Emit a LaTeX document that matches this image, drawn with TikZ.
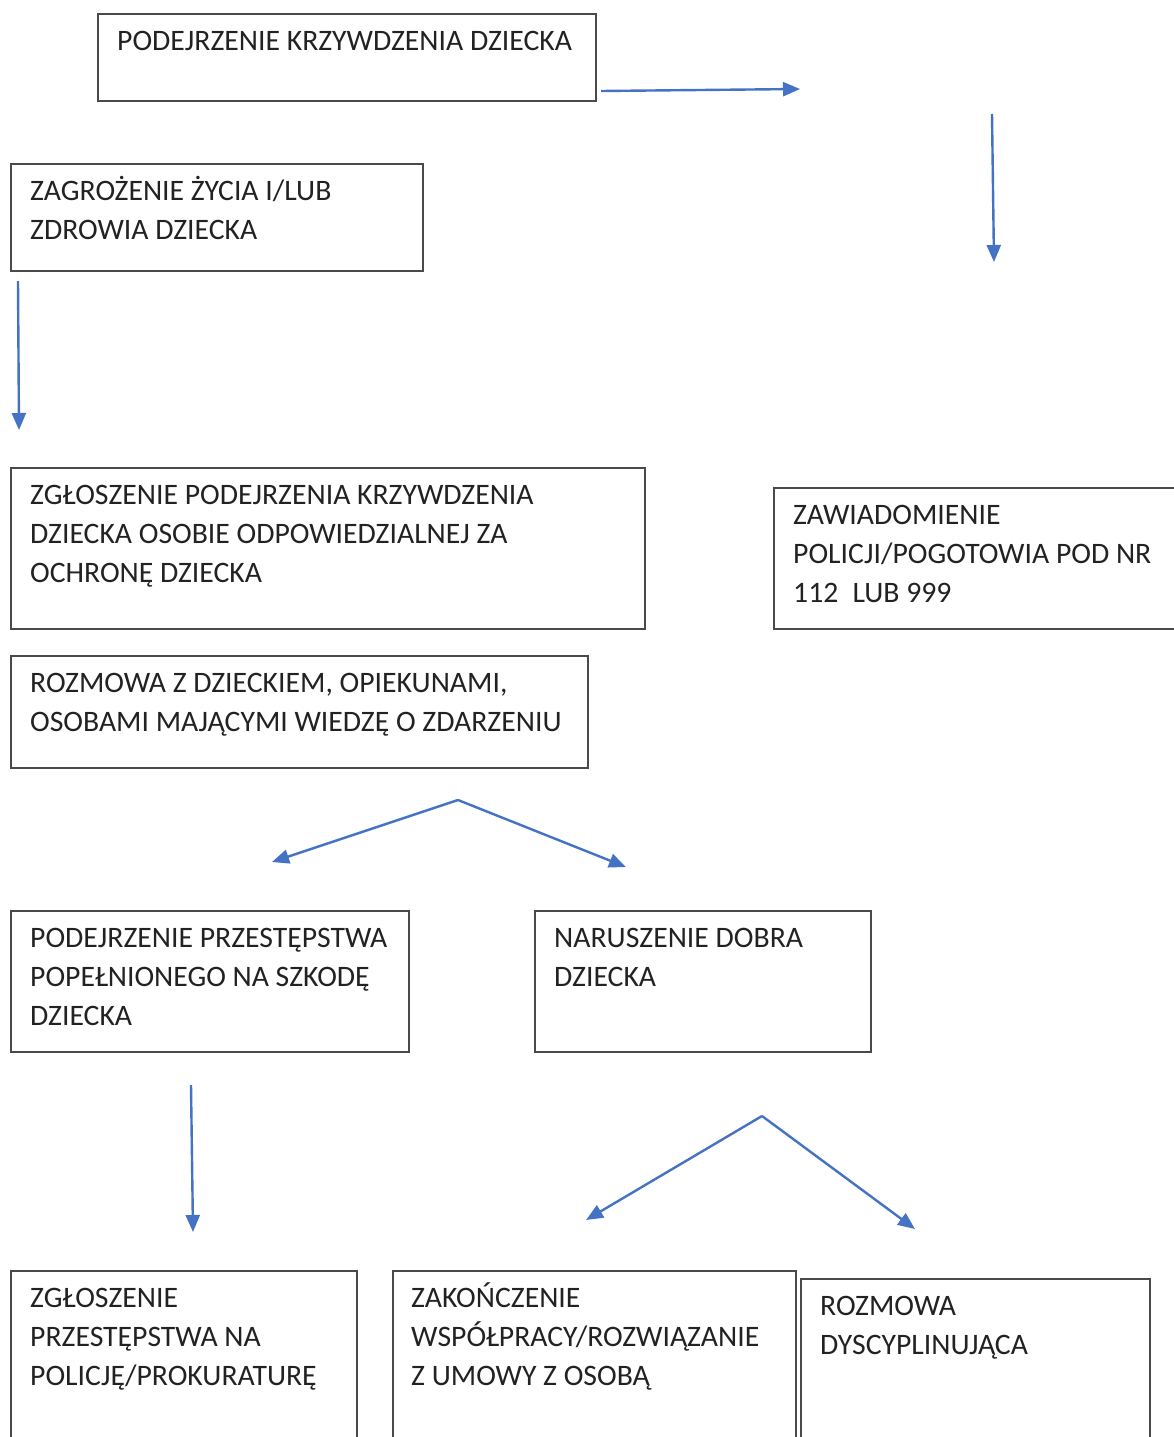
\documentclass[tikz,border=0pt]{standalone}
\usepackage{fontspec}
\setmainfont{Carlito}
\usetikzlibrary{arrows.meta,shadows}
\definecolor{arrowblue}{HTML}{4472C4}
\definecolor{boxline}{HTML}{4A4A4A}
\definecolor{txt}{HTML}{222222}
\tikzset{
  box/.style={draw=boxline, line width=1.6pt, fill=white, rectangle, anchor=north west, inner sep=0pt,
    drop shadow={shadow xshift=1.6pt, shadow yshift=-1.6pt, opacity=0.55, fill=black!70}},
  boxtext/.style={anchor=north west, inner sep=0pt, align=left, text=txt,
    font=\fontsize{29.7pt}{39pt}\selectfont},
  arr/.style={draw=arrowblue, line width=2.4pt, -{Triangle[length=17pt,width=14pt]}}
}
\newcommand{\fl}{\rule{0pt}{28pt}}
\begin{document}
\begin{tikzpicture}[x=1pt,y=-1pt]
\clip (0,0) rectangle (1174,1437);
\fill[white] (0,0) rectangle (1174,1437);

% boxes
\node[box, minimum width=498pt, minimum height=87pt] (b1) at (97,13) {};
\node[box, minimum width=412pt, minimum height=107pt] (b2) at (10,163) {};
\node[box, minimum width=634pt, minimum height=161pt] (b3) at (10,467) {};
\node[box, minimum width=410pt, minimum height=141pt] (b4) at (773,487) {};
\node[box, minimum width=577pt, minimum height=112pt] (b5) at (10,655) {};
\node[box, minimum width=398pt, minimum height=141pt] (b6) at (10,910) {};
\node[box, minimum width=336pt, minimum height=141pt] (b7) at (534,910) {};
\node[box, minimum width=346pt, minimum height=190pt] (b8) at (10,1270) {};
\node[box, minimum width=403pt, minimum height=190pt] (b9) at (392,1270) {};
\node[box, minimum width=349pt, minimum height=190pt] (b10) at (800,1278) {};

% texts
\node[boxtext] (t1) at ([shift={(20,9)}]b1.north west) {\fl PODEJRZENIE KRZYWDZENIA DZIECKA};
\node[boxtext] (t2) at ([shift={(20,9)}]b2.north west) {\fl ZAGROŻENIE ŻYCIA I/LUB\\ZDROWIA DZIECKA};
\node[boxtext] (t3) at ([shift={(20,9)}]b3.north west) {\fl ZGŁOSZENIE PODEJRZENIA KRZYWDZENIA\\DZIECKA OSOBIE ODPOWIEDZIALNEJ ZA\\OCHRONĘ DZIECKA};
\node[boxtext] (t4) at ([shift={(20,9)}]b4.north west) {\fl ZAWIADOMIENIE\\POLICJI/POGOTOWIA POD NR\\112\hspace{0.25em} LUB 999};
\node[boxtext] (t5) at ([shift={(20,9)}]b5.north west) {\fl ROZMOWA Z DZIECKIEM, OPIEKUNAMI,\\OSOBAMI MAJĄCYMI WIEDZĘ O ZDARZENIU};
\node[boxtext] (t6) at ([shift={(20,9)}]b6.north west) {\fl PODEJRZENIE PRZESTĘPSTWA\\POPEŁNIONEGO NA SZKODĘ\\DZIECKA};
\node[boxtext] (t7) at ([shift={(20,9)}]b7.north west) {\fl NARUSZENIE DOBRA\\DZIECKA};
\node[boxtext] (t8) at ([shift={(20,9)}]b8.north west) {\fl ZGŁOSZENIE\\PRZESTĘPSTWA NA\\POLICJĘ/PROKURATURĘ};
\node[boxtext] (t9) at ([shift={(19,9)}]b9.north west) {\fl ZAKOŃCZENIE\\WSPÓŁPRACY/ROZWIĄZANIE\\Z UMOWY Z OSOBĄ};
\node[boxtext] (t10) at ([shift={(20,9)}]b10.north west) {\fl ROZMOWA\\DYSCYPLINUJĄCA};

% arrow end points
\coordinate (a1s) at (601,91);
\coordinate (a1e) at (800,89);
\coordinate (a2s) at (992,114);
\coordinate (a2e) at (994,262);
\coordinate (a3s) at (18,281);
\coordinate (a3e) at (19,430);
\coordinate (a4s) at (458,800);
\coordinate (a4l) at (272,862);
\coordinate (a4r) at (626,867);
\coordinate (a5s) at (191,1085);
\coordinate (a5e) at (193,1232);
\coordinate (a6s) at (762,1116);
\coordinate (a6l) at (586,1220);
\coordinate (a6r) at (915,1229);

\draw[arr] (a1s) -- (a1e);
\draw[arr] (a2s) -- (a2e);
\draw[arr] (a3s) -- (a3e);
\draw[arr] (a4s) -- (a4l);
\draw[arr] (a4s) -- (a4r);
\draw[arr] (a5s) -- (a5e);
\draw[arr] (a6s) -- (a6l);
\draw[arr] (a6s) -- (a6r);
\end{tikzpicture}
\end{document}
